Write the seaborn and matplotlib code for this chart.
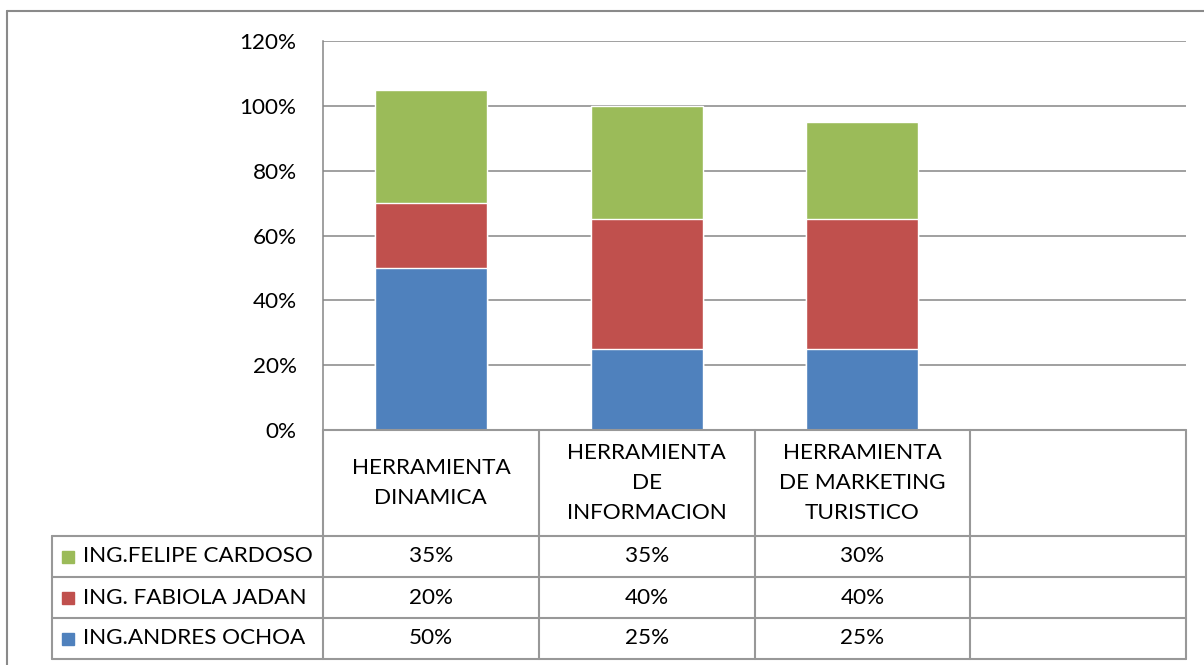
import matplotlib
matplotlib.use("Agg")
import matplotlib.pyplot as plt
import seaborn as sns
import numpy as np
from matplotlib.lines import Line2D
from matplotlib.patches import Rectangle
from matplotlib.ticker import FuncFormatter

# ---- data ----
categories = ["HERRAMIENTA\nDINAMICA", "HERRAMIENTA\nDE\nINFORMACION", "HERRAMIENTA\nDE MARKETING\nTURISTICO"]
series_names = ["ING.ANDRES OCHOA", "ING. FABIOLA JADAN", "ING.FELIPE CARDOSO"]
andres = [50, 25, 25]
fabiola = [20, 40, 40]
felipe = [35, 35, 30]
series_values = [andres, fabiola, felipe]
colors = ["#4F81BD", "#C0504D", "#9BBB59"]
yticks = [0, 20, 40, 60, 80, 100, 120]

sns.set_theme(style="white")
plt.rcParams["font.family"] = ["Lato", "DejaVu Sans"]
FS = 16.2
TXT = "#000000"
GRID = "#868686"
TLINE = "#989898"

W, H = 1204, 665
fig = plt.figure(figsize=(W / 100, H / 100), dpi=100)

def fx(x):
    return x / W

def fy(y):
    return 1 - y / H

L, R, T, B = 323, 1186, 41, 430
ax = fig.add_axes([fx(L), fy(B), (R - L) / W, (B - T) / H])

# stacked bars (draw cumulative totals, tallest first)
cum = np.cumsum(np.array(series_values), axis=0)
for i in range(len(series_values) - 1, -1, -1):
    sns.barplot(x=categories, y=cum[i], order=categories, color=colors[i],
                saturation=1, width=0.52, ax=ax, zorder=3)

ax.set_xlim(-0.5, 3.5)
ax.set_ylim(0, 120)
ax.set_yticks(yticks)
ax.yaxis.set_major_formatter(FuncFormatter(lambda v, p: f"{int(v)}%"))
ax.set_xticks([])
ax.set_xlabel("")
ax.set_ylabel("")
ax.grid(False)
for v in yticks:
    ax.axhline(v, color=GRID, lw=1.1, zorder=1)
for s in ["top", "right", "bottom"]:
    ax.spines[s].set_visible(False)
ax.spines["left"].set_color(GRID)
ax.spines["left"].set_linewidth(1.1)
ax.tick_params(axis="y", length=0, pad=19, labelsize=FS, labelcolor=TXT)

# ---- data table ----
col_edges = [L + (R - L) * k / 4 for k in range(5)]
leg_left = 52
row_edges = [536, 577, 618, 659]
lw = 1.5

def hline(x0, x1, y):
    fig.add_artist(Line2D([fx(x0), fx(x1)], [fy(y), fy(y)], color=TLINE, lw=lw))

def vline(x, y0, y1):
    fig.add_artist(Line2D([fx(x), fx(x)], [fy(y0), fy(y1)], color=TLINE, lw=lw))

hline(L, R, B)
for y in row_edges:
    hline(leg_left, R, y)
for x in col_edges:
    vline(x, B, row_edges[-1])
vline(leg_left, row_edges[0], row_edges[-1])

# header
for k, cat in enumerate(categories):
    cx = (col_edges[k] + col_edges[k + 1]) / 2
    fig.text(fx(cx), fy((B + row_edges[0]) / 2), cat, ha="center", va="center",
             fontsize=FS, color=TXT, linespacing=1.6, multialignment="center")

# rows (top row = last series)
for r in range(3):
    si = 2 - r
    y0, y1 = row_edges[r], row_edges[r + 1]
    cy = (y0 + y1) / 2
    fig.add_artist(Rectangle((fx(62), fy(cy + 6)), 12 / W, 12 / H, color=colors[si],
                             transform=fig.transFigure))
    fig.text(fx(83), fy(cy), series_names[si], ha="left", va="center", fontsize=FS, color=TXT)
    for k, v in enumerate(series_values[si]):
        cx = (col_edges[k] + col_edges[k + 1]) / 2
        fig.text(fx(cx), fy(cy), f"{v}%", ha="center", va="center", fontsize=FS, color=TXT)

# outer chart frame
fig.add_artist(Line2D([fx(7), fx(W)], [fy(11), fy(11)], color="#8a8a8a", lw=1.5))
fig.add_artist(Line2D([fx(7), fx(7)], [fy(11), fy(H)], color="#8a8a8a", lw=1.5))

fig.savefig("out.png", dpi=100)
